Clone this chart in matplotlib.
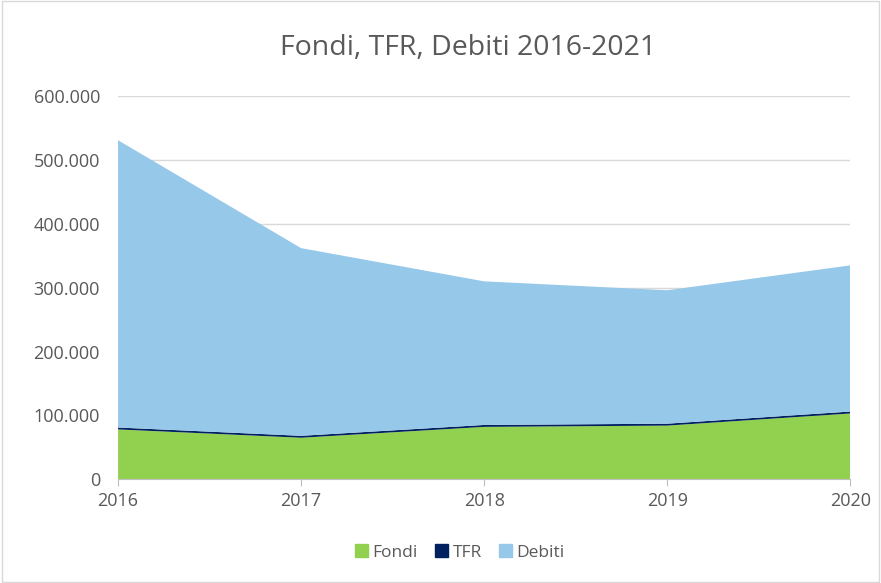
import matplotlib
matplotlib.use("Agg")
import matplotlib.pyplot as plt
from matplotlib.ticker import FuncFormatter
from matplotlib.patches import Patch

years = [2016, 2017, 2018, 2019, 2020]
fondi = [78000, 65000, 82000, 84000, 103000]
tfr = [3000, 3000, 3000, 3000, 3000]
debiti = [450000, 294000, 225000, 209000, 229000]

plt.rcParams['font.family'] = ['Open Sans', 'DejaVu Sans']

fig = plt.figure(figsize=(8.81, 5.83), dpi=100)
ax = fig.add_axes([0.134, 0.178, 0.831, 0.657])

c_fondi = '#92D050'
c_tfr = '#002060'
c_deb = '#95C8E9'

ax.stackplot(years, fondi, tfr, debiti, colors=[c_fondi, c_tfr, c_deb], zorder=2)

ax.set_xlim(2016, 2020)
ax.set_ylim(0, 600000)
ax.set_yticks(range(0, 600001, 100000))
ax.set_xticks(years)
ax.yaxis.set_major_formatter(FuncFormatter(lambda v, p: '0' if v == 0 else f'{int(v):,}'.replace(',', '.')))
ax.grid(axis='y', color='#D9D9D9', linewidth=1, zorder=0)
ax.set_axisbelow(True)
for s in ['top', 'right', 'left']:
    ax.spines[s].set_visible(False)
ax.spines['bottom'].set_color('#BFBFBF')
ax.tick_params(axis='y', length=0, labelsize=13, labelcolor='#595959', pad=13)
ax.tick_params(axis='x', length=5, color='#BFBFBF', labelsize=13, labelcolor='#595959', pad=4)

fig.text(0.531, 0.918, 'Fondi, TFR, Debiti 2016-2021', ha='center', va='center', fontsize=20.5, color='#595959')

handles = [Patch(color=c_fondi, label='Fondi'), Patch(color=c_tfr, label='TFR'), Patch(color=c_deb, label='Debiti')]
fig.legend(handles=handles, loc='center', bbox_to_anchor=(0.522, 0.052), ncol=3, frameon=False,
           fontsize=12.5, labelcolor='#595959', handlelength=0.75, handleheight=0.75, handletextpad=0.25, columnspacing=1.0)

fig.patches.append(plt.Rectangle((0.002, 0.002), 0.996, 0.996, transform=fig.transFigure, fill=False, edgecolor='#D9D9D9', linewidth=1))

fig.savefig('out.png', dpi=100)
